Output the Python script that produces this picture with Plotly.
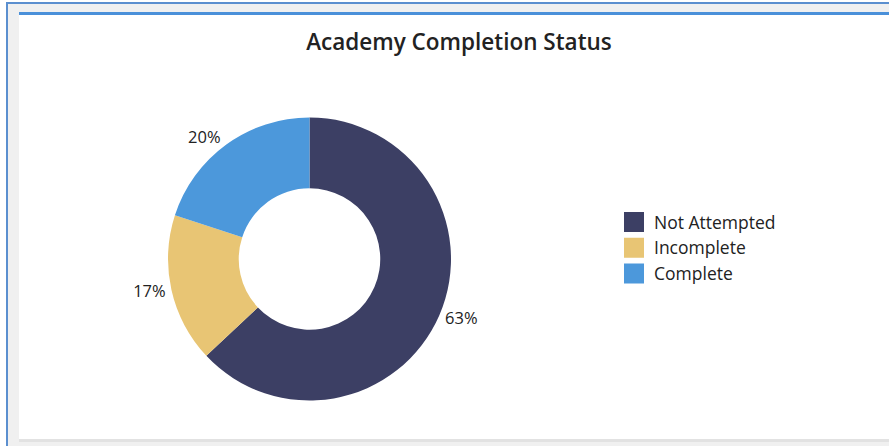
import plotly.graph_objects as go

categories = ["Not Attempted", "Incomplete", "Complete"]
values = [63, 17, 20]
colors = ["#3c3f64", "#e8c574", "#4c98db"]

W, H = 889, 446

def px(x):
    return x / W

def py(y):
    return 1 - y / H

fig = go.Figure()

fig.add_trace(go.Pie(
    labels=categories,
    values=values,
    marker=dict(colors=colors),
    hole=0.5,
    sort=False,
    direction="clockwise",
    rotation=0,
    textinfo="percent",
    textposition="outside",
    textfont=dict(family="Open Sans", size=16.5, color="#222222"),
    showlegend=False,
    domain=dict(x=[px(168), px(451)], y=[py(400.5), py(117.5)]),
))

for name, col in zip(categories, colors):
    fig.add_trace(go.Scatter(
        x=[None], y=[None], mode="markers", name=name,
        marker=dict(symbol="square", size=16, color=col,
                    line=dict(color=col, width=4)),
        showlegend=True, hoverinfo="skip",
    ))

shapes = [
    dict(type="rect", xref="paper", yref="paper", x0=px(6), x1=px(900), y0=py(2), y1=py(460),
         fillcolor="#5b8fcf", line=dict(width=0), layer="below"),
    dict(type="rect", xref="paper", yref="paper", x0=px(8), x1=px(900), y0=py(4), y1=py(460),
         fillcolor="#f0f0f0", line=dict(width=0), layer="below"),
    dict(type="rect", xref="paper", yref="paper", x0=px(19), x1=px(900), y0=py(439), y1=py(442),
         fillcolor="#e2e2e2", line=dict(width=0), layer="below"),
    dict(type="rect", xref="paper", yref="paper", x0=px(19), x1=px(900), y0=py(12), y1=py(439),
         fillcolor="#ffffff", line=dict(width=0), layer="below"),
    dict(type="rect", xref="paper", yref="paper", x0=px(19), x1=px(900), y0=py(12), y1=py(15),
         fillcolor="#4a90d9", line=dict(width=0), layer="below"),
]

fig.update_layout(
    width=W, height=H,
    margin=dict(l=0, r=0, t=0, b=0),
    paper_bgcolor="#ffffff",
    plot_bgcolor="rgba(0,0,0,0)",
    shapes=shapes,
    xaxis=dict(visible=False, domain=[0.9, 0.95]),
    yaxis=dict(visible=False, domain=[0.9, 0.95]),
    title=dict(text="Academy Completion Status", x=px(459), xanchor="center",
               y=py(42), yanchor="middle",
               font=dict(family="Open Sans", size=22.5, weight=600, color="#222222")),
    legend=dict(x=px(614), xanchor="left", y=py(204), yanchor="top",
                font=dict(family="Open Sans", size=17.5, color="#222222"),
                bgcolor="rgba(0,0,0,0)", itemclick=False),
)

fig.write_html("out.html",
               config=dict(displayModeBar=False),
               post_script="document.body.style.margin='0';document.body.style.overflow='hidden';")
